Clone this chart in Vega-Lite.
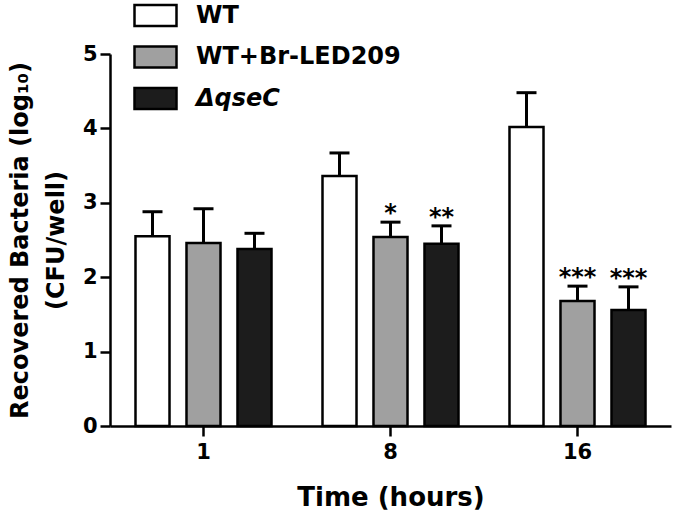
{
  "$schema": "https://vega.github.io/schema/vega-lite/v6.json",
  "width": 561,
  "height": 372,
  "autosize": {"type": "none"},
  "padding": {"left": 110, "top": 54, "right": 4, "bottom": 92},
  "background": "white",
  "config": {
    "view": {"stroke": null},
    "font": "DejaVu Sans",
    "axis": {
      "domainColor": "black",
      "domainWidth": 2.5,
      "tickColor": "black",
      "tickWidth": 2.5,
      "tickSize": 10,
      "grid": false,
      "labelFont": "DejaVu Sans",
      "labelFontWeight": "bold",
      "labelFontSize": 21,
      "labelColor": "black",
      "titleFont": "DejaVu Sans",
      "titleFontWeight": "bold",
      "titleColor": "black"
    },
    "axisX": {"labelAngle": 0, "labelPadding": 5, "titleFontSize": 26, "titlePadding": 22},
    "axisY": {"labelPadding": 3, "titleFontSize": 24, "titlePadding": 14, "titleLineHeight": 36},
    "legend": {
      "orient": "none",
      "legendX": 23,
      "legendY": -61,
      "title": null,
      "symbolType": "M-1,-0.5H1V0.5H-1Z",
      "symbolSize": 1764,
      "symbolStrokeColor": "black",
      "symbolStrokeWidth": 2.5,
      "symbolOpacity": 1,
      "labelFont": "DejaVu Sans",
      "labelFontWeight": "bold",
      "labelFontSize": 24,
      "labelColor": "black",
      "labelOffset": 18,
      "labelLimit": 400,
      "rowPadding": 3.5
    }
  },
  "data": {
    "values": [
      {"time": "1", "group": "WT", "mean": 2.55, "upper": 2.88, "star": ""},
      {"time": "1", "group": "WT+Br-LED209", "mean": 2.46, "upper": 2.92, "star": ""},
      {"time": "1", "group": "ΔqseC", "mean": 2.38, "upper": 2.59, "star": ""},
      {"time": "8", "group": "WT", "mean": 3.36, "upper": 3.67, "star": ""},
      {"time": "8", "group": "WT+Br-LED209", "mean": 2.54, "upper": 2.74, "star": "*"},
      {"time": "8", "group": "ΔqseC", "mean": 2.45, "upper": 2.69, "star": "**"},
      {"time": "16", "group": "WT", "mean": 4.02, "upper": 4.48, "star": ""},
      {"time": "16", "group": "WT+Br-LED209", "mean": 1.68, "upper": 1.88, "star": "***"},
      {"time": "16", "group": "ΔqseC", "mean": 1.56, "upper": 1.87, "star": "***"}
    ]
  },
  "encoding": {
    "x": {
      "field": "time",
      "type": "ordinal",
      "sort": ["1", "8", "16"],
      "scale": {"paddingInner": 0, "paddingOuter": 0},
      "axis": {"title": "Time (hours)"}
    },
    "xOffset": {
      "field": "group",
      "type": "nominal",
      "sort": ["WT", "WT+Br-LED209", "ΔqseC"],
      "scale": {"paddingInner": 0.333, "paddingOuter": 0.5}
    }
  },
  "layer": [
    {
      "mark": {"type": "bar", "stroke": "black", "strokeWidth": 2.5},
      "encoding": {
        "y": {
          "field": "mean",
          "type": "quantitative",
          "scale": {"domain": [0, 5]},
          "title": ["Recovered Bacteria (log₁₀)", "(CFU/well)"],
          "axis": {
            "values": [0, 0.5, 1, 1.5, 2, 2.5, 3, 3.5, 4, 4.5, 5],
            "labelExpr": "datum.value % 1 == 0 ? format(datum.value, 'd') : ''"
          }
        },
        "color": {
          "field": "group",
          "type": "nominal",
          "sort": ["WT", "WT+Br-LED209", "ΔqseC"],
          "scale": {"domain": ["WT", "WT+Br-LED209", "ΔqseC"], "range": ["#ffffff", "#a0a0a0", "#1c1c1c"]},
          "legend": {
            "labelExpr": "datum.label",
            "encode": {
              "labels": {
                "update": {
                  "fontStyle": {"signal": "datum.label == 'ΔqseC' ? 'italic' : 'normal'"}
                }
              }
            }
          }
        }
      }
    },
    {
      "mark": {"type": "rule", "strokeWidth": 3, "color": "black"},
      "encoding": {
        "y": {"field": "upper", "type": "quantitative", "title": ["Recovered Bacteria (log₁₀)", "(CFU/well)"]},
        "y2": {"field": "mean"}
      }
    },
    {
      "mark": {"type": "tick", "size": 20, "thickness": 3, "color": "black", "opacity": 1},
      "encoding": {
        "y": {"field": "upper", "type": "quantitative", "title": ["Recovered Bacteria (log₁₀)", "(CFU/well)"]}
      }
    },
    {
      "mark": {"type": "text", "font": "DejaVu Sans", "fontWeight": "bold", "fontSize": 24, "baseline": "alphabetic", "dy": -1, "color": "black"},
      "encoding": {
        "y": {"field": "upper", "type": "quantitative", "title": ["Recovered Bacteria (log₁₀)", "(CFU/well)"]},
        "text": {"field": "star"}
      }
    }
  ]
}
